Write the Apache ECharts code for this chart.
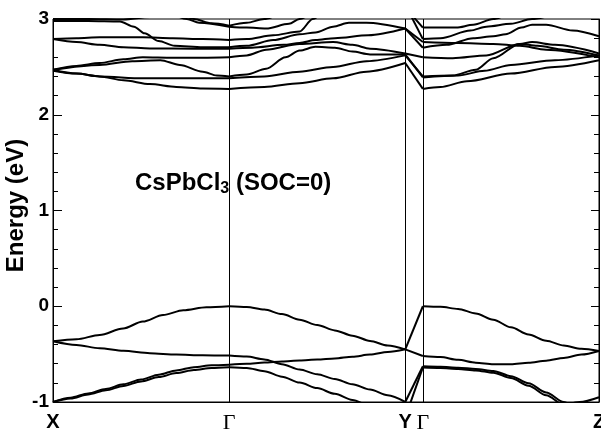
<!DOCTYPE html>
<html>
<head>
<meta charset="utf-8">
<script src="https://cdn.jsdelivr.net/npm/echarts@6/dist/echarts.min.js"></script>
<style>html,body{margin:0;padding:0;background:#fff}#c{width:601px;height:432px}</style>
</head>
<body>
<div id="c"></div>
<script>
// High-symmetry points along the k-path
const kPos = [0, 1, 2, 2.1, 3.1];
const kLabels = ['X', 'Γ', 'Y', 'Γ', 'Z'];
const yTickLabels = ['-1', '0', '1', '2', '3'];

// Valence bands [k, E(eV)]
const vb1 = [[0,-0.366],[0.133,-0.345],[0.265,-0.300],[0.398,-0.232],[0.51,-0.160],[0.625,-0.092],[0.74,-0.042],[0.871,-0.011],[1,0],[1.1,-0.008],[1.2,-0.035],[1.3,-0.082],[1.4,-0.140],[1.5,-0.196],[1.6,-0.252],[1.7,-0.307],[1.8,-0.362],[1.9,-0.41],[2,-0.45],[2.1,0],[2.2,-0.006],[2.3,-0.028],[2.4,-0.075],[2.5,-0.14],[2.6,-0.22],[2.7,-0.295],[2.8,-0.36],[2.9,-0.41],[3,-0.445],[3.1,-0.467]];
const vb2 = [[0,-0.366],[0.133,-0.405],[0.265,-0.438],[0.4,-0.466],[0.55,-0.49],[0.7,-0.505],[0.85,-0.513],[1,-0.515],[1.1,-0.525],[1.2,-0.555],[1.3,-0.605],[1.4,-0.66],[1.5,-0.71],[1.6,-0.76],[1.7,-0.815],[1.8,-0.87],[1.9,-0.93],[2,-1.0],[2.1,-0.627],[2.2,-0.632],[2.3,-0.642],[2.4,-0.655],[2.5,-0.675],[2.6,-0.73],[2.7,-0.805],[2.8,-0.9],[2.9,-1.0],[3,-1.1],[3.1,-1.2]];
const vb3 = [[0,-1.0],[0.1,-0.955],[0.2,-0.91],[0.3,-0.863],[0.4,-0.815],[0.5,-0.765],[0.6,-0.715],[0.7,-0.67],[0.8,-0.636],[0.9,-0.617],[1,-0.61],[1.1,-0.601],[1.2,-0.588],[1.3,-0.577],[1.4,-0.567],[1.5,-0.557],[1.6,-0.545],[1.7,-0.527],[1.8,-0.505],[1.9,-0.478],[2,-0.45],[2.1,-0.52],[2.2,-0.53],[2.3,-0.56],[2.4,-0.59],[2.5,-0.607],[2.6,-0.605],[2.7,-0.59],[2.8,-0.568],[2.9,-0.54],[3,-0.505],[3.1,-0.467]];
const vb4 = [[0,-1.0],[0.1,-0.963],[0.2,-0.922],[0.3,-0.878],[0.4,-0.832],[0.5,-0.785],[0.6,-0.74],[0.7,-0.698],[0.8,-0.665],[0.9,-0.645],[1,-0.637],[1.1,-0.645],[1.2,-0.678],[1.3,-0.735],[1.4,-0.797],[1.5,-0.855],[1.6,-0.915],[1.7,-0.978],[1.8,-1.04],[2,-1.16],[2.1,-0.64],[2.2,-0.645],[2.3,-0.655],[2.4,-0.67],[2.5,-0.695],[2.6,-0.75],[2.7,-0.83],[2.8,-0.93],[2.9,-1.03],[3.1,-1.24]];
const vb5 = [[2.1,-1.6],[2.75,-1.12],[2.99,-1.0],[3.1,-0.95]];

// Conduction bands [k, E(eV)]
const cb1 = [[0,2.46],[0.133,2.43],[0.265,2.40],[0.4,2.36],[0.55,2.32],[0.7,2.29],[0.85,2.275],[1,2.27],[1.2,2.29],[1.4,2.33],[1.59,2.38],[1.78,2.45],[2,2.54],[2.1,2.27],[2.2,2.29],[2.35,2.35],[2.6,2.43],[2.85,2.50],[3.1,2.57]];
const cb2 = [[0,2.47],[0.133,2.43],[0.265,2.40],[0.51,2.38],[0.75,2.38],[1,2.38],[1.2,2.40],[1.4,2.45],[1.59,2.50],[1.78,2.56],[2,2.62],[2.1,2.40],[2.27,2.41],[2.4,2.47],[2.5,2.59],[2.65,2.74],[2.75,2.72],[2.9,2.68],[3.1,2.62]];
const cb3 = [[0,2.47],[0.265,2.52],[0.45,2.56],[0.61,2.57],[0.72,2.52],[0.85,2.45],[0.93,2.41],[1,2.40],[1.1,2.42],[1.21,2.48],[1.32,2.60],[1.4,2.67],[1.49,2.71],[1.6,2.70],[1.7,2.66],[1.8,2.63],[2,2.63],[2.1,2.39],[2.3,2.41],[2.45,2.46],[2.6,2.52],[2.85,2.57],[3.1,2.62]];
const cb4 = [[0,2.47],[0.133,2.51],[0.265,2.54],[0.4,2.58],[0.51,2.60],[0.68,2.595],[0.85,2.595],[1,2.60],[1.1,2.62],[1.21,2.68],[1.4,2.74],[1.59,2.76],[1.7,2.73],[1.8,2.69],[2,2.64],[2.1,2.60],[2.27,2.59],[2.46,2.62],[2.65,2.74],[2.72,2.76],[2.85,2.73],[3.1,2.64]];
const cb5 = [[0,2.79],[0.133,2.76],[0.265,2.73],[0.4,2.705],[0.55,2.693],[0.8,2.69],[1,2.69],[1.13,2.70],[1.31,2.73],[1.4,2.75],[1.49,2.78],[1.6,2.80],[1.79,2.83],[2,2.90],[2.1,2.76],[2.3,2.75],[2.5,2.74],[2.65,2.72],[2.8,2.68],[3.1,2.60]];
const cb6 = [[0,2.98],[0.2,2.98],[0.38,2.975],[0.46,2.92],[0.52,2.85],[0.6,2.77],[0.69,2.72],[0.85,2.705],[1,2.705],[1.1,2.72],[1.25,2.78],[1.4,2.84],[1.49,2.86],[1.59,2.92],[1.68,2.96],[1.78,2.96],[2,2.90],[2.1,2.70],[2.235,2.73],[2.386,2.80],[2.5,2.82],[2.57,2.84],[2.66,2.91],[2.72,2.94],[2.8,2.94],[2.95,2.88],[3.1,2.82]];
const cb7 = [[0,2.79],[0.133,2.80],[0.265,2.81],[0.51,2.81],[0.68,2.80],[0.85,2.79],[1,2.78],[1.1,2.79],[1.25,2.83],[1.4,2.87],[1.475,3.0],[1.55,3.08],[1.8,3.12],[2,3.12],[2.1,2.91],[2.29,2.91],[2.386,2.94],[2.5,3.0],[2.6,3.05],[3.1,3.1]];
const cb8 = [[0.6,3.15],[0.76,3.0],[0.83,2.96],[1,2.92],[1.1,2.91],[1.21,2.90],[1.34,2.95],[1.4,3.0],[1.5,3.08],[2,3.15],[2.1,2.79],[2.2,2.80],[2.37,2.88],[2.46,2.92],[2.6,2.95],[2.72,3.0],[2.9,3.06],[3.1,3.1]];
const cb9 = [[0.6,3.12],[0.72,3.05],[0.80,3.0],[0.9,2.955],[1,2.93],[1.1,2.96],[1.2,3.0],[1.3,3.05],[1.5,3.1]];
const cb10 = [[0,3.0],[0.2,3.0],[0.4,2.995],[0.55,3.02],[0.7,3.06]];

const bands = [vb1, vb2, vb3, vb4, vb5, cb1, cb2, cb3, cb4, cb5, cb6, cb7, cb8, cb9, cb10];
const knots = [1, 2, 2.1];

function splitBand(pts) {
  const segs = [];
  let cur = [];
  pts.forEach(function (p) {
    cur.push(p);
    if (cur.length > 1 && knots.some(function (k) { return Math.abs(k - p[0]) < 1e-9; })) {
      segs.push(cur);
      cur = [p];
    }
  });
  if (cur.length > 1) segs.push(cur);
  return segs;
}

const series = [];
bands.forEach(function (b) {
  splitBand(b).forEach(function (seg) {
    series.push({
      type: 'line',
      data: seg,
      showSymbol: false,
      symbol: 'none',
      smooth: 0.3,
      smoothMonotone: 'x',
      clip: true,
      silent: true,
      lineStyle: { color: '#000', width: 2 }
    });
  });
});
series.push({
  type: 'line',
  data: [],
  silent: true,
  markLine: {
    silent: true,
    symbol: ['none', 'none'],
    label: { show: false },
    lineStyle: { color: '#000', width: 1, type: 'solid' },
    emphasis: { disabled: true },
    data: kPos.slice(1, 4).map(function (v) { return { xAxis: v }; })
  }
});

const chart = echarts.init(document.getElementById('c'), null, { renderer: 'canvas' });
chart.setOption({
  animation: false,
  backgroundColor: '#fff',
  title: {
    text: '{a|CsPbCl}{s|3}{a| (SOC=0)}',
    left: 135,
    top: 169,
    padding: 0,
    textStyle: {
      rich: {
        a: { fontSize: 24, fontWeight: 'bold', fontFamily: 'Liberation Sans, Arial, sans-serif', color: '#000', lineHeight: 28 },
        s: { fontSize: 16, fontWeight: 'bold', fontFamily: 'Liberation Sans, Arial, sans-serif', color: '#000', lineHeight: 14, verticalAlign: 'bottom' }
      }
    }
  },
  grid: { left: 53, right: 2, top: 19, bottom: 30, outerBoundsMode: 'none', containLabel: false, show: true, borderColor: '#000', borderWidth: 1 },
  xAxis: {
    type: 'value',
    min: 0,
    max: 3.1,
    axisLine: { show: true, onZero: false, lineStyle: { color: '#000', width: 1 } },
    axisTick: { show: false },
    splitLine: { show: false },
    axisLabel: {
      customValues: kPos,
      margin: 10,
      alignMinLabel: 'center',
      alignMaxLabel: 'center',
      hideOverlap: false,
      formatter: function (v) {
        let idx = 0, best = 1e9;
        kPos.forEach(function (p, i) { if (Math.abs(p - v) < best) { best = Math.abs(p - v); idx = i; } });
        const t = kLabels[idx];
        return t === 'Γ' ? '{g|Γ}' : '{b|' + t + '}';
      },
      rich: {
        b: { fontSize: 20, fontWeight: 'bold', fontFamily: 'Liberation Sans, Arial, sans-serif', color: '#000' },
        g: { fontSize: 22, fontFamily: 'Liberation Serif, Times New Roman, serif', color: '#000' }
      }
    }
  },
  yAxis: [{
    type: 'value',
    position: 'left',
    min: -1,
    max: 3,
    interval: 1,
    name: 'Energy (eV)',
    nameLocation: 'middle',
    nameGap: 25,
    nameMoveOverlap: false,
    nameTextStyle: { fontSize: 24, fontWeight: 'bold', fontFamily: 'Liberation Sans, Arial, sans-serif', color: '#000', padding: [0, 0, 0, 10] },
    axisLine: { show: true, onZero: false, lineStyle: { color: '#000', width: 1 } },
    axisTick: { show: true, inside: true, length: 9, lineStyle: { color: '#000', width: 1 } },
    minorTick: { show: true, splitNumber: 5, length: 5, lineStyle: { color: '#000', width: 1 } },
    splitLine: { show: false },
    axisLabel: {
      margin: 4,
      fontSize: 19,
      fontWeight: 'bold',
      fontFamily: 'Liberation Sans, Arial, sans-serif',
      color: '#000',
      formatter: function (v) { return yTickLabels[Math.round(v) + 1]; }
    }
  }, {
    type: 'value',
    position: 'right',
    min: -1,
    max: 3,
    interval: 1,
    axisLine: { show: true, onZero: false, lineStyle: { color: '#000', width: 1 } },
    axisTick: { show: true, inside: true, length: 8, lineStyle: { color: '#000', width: 1 } },
    minorTick: { show: true, splitNumber: 5, length: 5, lineStyle: { color: '#000', width: 1 } },
    splitLine: { show: false },
    axisLabel: { show: false }
  }],
  series: series
});
</script>
</body>
</html>
